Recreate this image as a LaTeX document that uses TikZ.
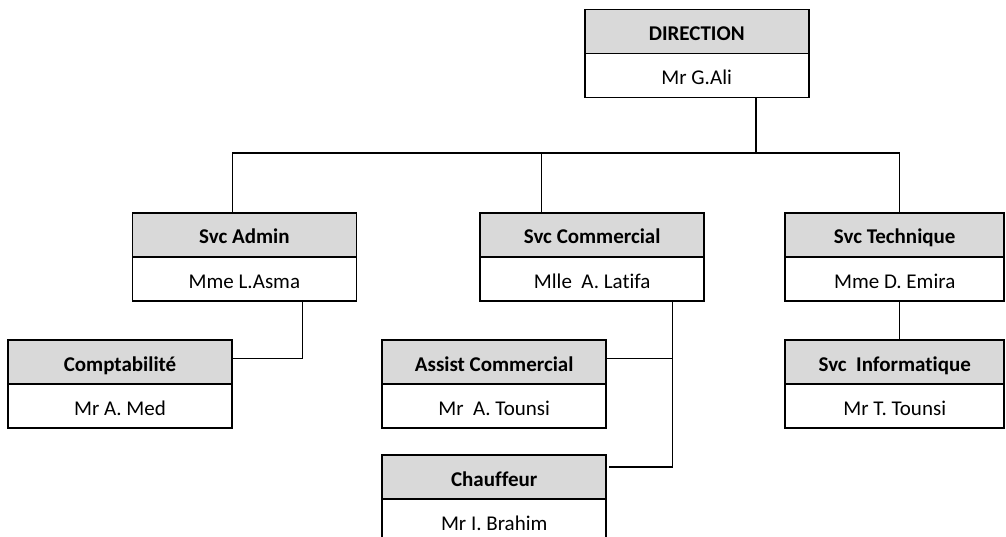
\documentclass[tikz,border=0pt]{standalone}
\usepackage{fontspec}
\setmainfont{Carlito}[Ligatures=NoCommon]
\usepackage{tikz}
\usetikzlibrary{positioning}
\definecolor{headgray}{HTML}{D9D9D9}
\tikzset{
  head/.style={draw, fill=headgray, line width=1.8pt, minimum width=224pt, minimum height=44pt,
    inner sep=0pt, outer sep=0pt, text height=18.6pt, text depth=0pt, font=\fontsize{21}{25}\selectfont\bfseries},
  pers/.style={head, fill=white, font=\fontsize{21}{25}\selectfont},
  link/.style={line width=1.5pt}
}

\begin{document}
\begin{tikzpicture}[x=1pt,y=-1pt]
  \useasboundingbox (0,0) rectangle (1006,537);
  \clip (0,0) rectangle (1006,537);

  % boxes
  \node[head] (dirH) at (696.7,31.5) {DIRECTION};
  \node[pers, below=0pt of dirH] (dir) {Mr G.Ali};

  \node[head] (admH) at (244.4,234.7) {Svc Admin};
  \node[pers, below=0pt of admH] (adm) {Mme L.Asma};
  \node[head] (comH) at (592.2,234.7) {Svc Commercial};
  \node[pers, below=0pt of comH] (com) {Mlle\ \ A. Latifa};
  \node[head, minimum width=219pt] (tecH) at (894.7,234.7) {Svc Technique};
  \node[pers, minimum width=219pt, below=0pt of tecH] (tec) {Mme D. Emira};

  \node[head] (cptH) at (120,361.7) {Comptabilité};
  \node[pers, below=0pt of cptH] (cpt) {Mr A. Med};
  \node[head] (astH) at (494.2,361.7) {Assist Commercial};
  \node[pers, below=0pt of astH] (ast) {Mr\ \ A. Tounsi};
  \node[head] (chfH) at (494.2,477.2) {Chauffeur};
  \node[pers, below=0pt of chfH] (chf) {Mr I. Brahim};
  \node[head, minimum width=219pt] (infH) at (894.7,361.7) {Svc\ \ Informatique};
  \node[pers, minimum width=219pt, below=0pt of infH] (inf) {Mr T. Tounsi};

  % links
  \coordinate (busL) at (232.3,153);
  \coordinate (busM) at (541.7,153);
  \coordinate (busD) at (756,153);
  \coordinate (busR) at (899.3,153);
  \coordinate (admX) at (302.3,0);
  \coordinate (comB) at (672.3,467);

  \draw[link] (dir.south -| busD) -- (busD);
  \draw[link] (admH.north -| busL) -- (busL) -- (busR) -- (tecH.north -| busR);
  \draw[link] (busM) -- (comH.north -| busM);
  \draw[link] (adm.south -| admX) |- ([yshift=3pt]cptH.east);
  \draw[link] (com.south -| comB) -- (comB) -- ([xshift=3pt]chfH.east |- comB);
  \draw[link] ([yshift=3pt]astH.east) -- ([yshift=3pt]astH.east -| comB);
  \draw[link] (tec.south -| busR) -- (infH.north -| busR);
\end{tikzpicture}
\end{document}
